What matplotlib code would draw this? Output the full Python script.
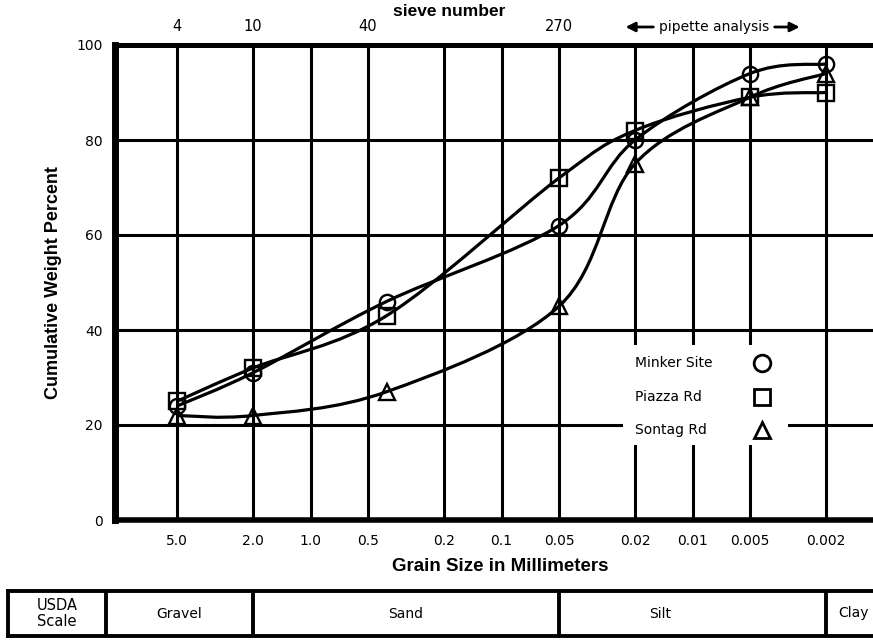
import numpy as np
import matplotlib
matplotlib.use("Agg")
import matplotlib.pyplot as plt
from matplotlib.path import Path
from matplotlib.patches import PathPatch, Rectangle
from matplotlib.text import OffsetFrom
from matplotlib.ticker import NullLocator

# grain size axis (mm) and sieve numbers on top
GRAIN_TICKS = [5.0, 2.0, 1.0, 0.5, 0.2, 0.1, 0.05, 0.02, 0.01, 0.005, 0.002]
GRAIN_LABELS = ["5.0", "2.0", "1.0", "0.5", "0.2", "0.1", "0.05", "0.02", "0.01", "0.005", "0.002"]
SIEVE_SIZES = [5.0, 2.0, 0.5, 0.05]
SIEVE_LABELS = ["4", "10", "40", "270"]
PCT_TICKS = [0, 20, 40, 60, 80, 100]

# cumulative weight percent per sample
SAMPLE_SIZES = [5.0, 2.0, 0.4, 0.05, 0.02, 0.005, 0.002]
MINKER = [24, 31, 46, 62, 80, 94, 96]
PIAZZA = [25, 32, 43, 72, 82, 89, 90]
SONTAG = [22, 22, 27, 45, 75, 89, 94]

SERIES = [
    ("Minker Site", MINKER, "o"),
    ("Piazza Rd", PIAZZA, "s"),
    ("Sontag Rd", SONTAG, "^"),
]

# USDA texture classes and their boundaries (mm)
USDA_BOUNDS = [2.0, 0.05, 0.002]
USDA_CLASSES = ["Gravel", "Sand", "Silt", "Clay"]

FIG_W, FIG_H = 873, 641
AX_L, AX_T, AX_B = 115, 45, 520  # pixel frame of the main axes
BOLD = dict(family=["Liberation Sans", "DejaVu Sans"], fontweight="bold")


def fx(px):
    return (px - AX_L) / (FIG_W - AX_L)


def fy(py):
    return (AX_B - py) / (AX_B - AX_T)


def smooth_path(xs, ys):
    # Catmull-Rom -> cubic bezier, built in log10(x) space
    pts = np.column_stack([np.log10(xs), np.asarray(ys, float)])
    ext = np.vstack([pts[0], pts, pts[-1]])
    verts = [pts[0]]
    codes = [Path.MOVETO]
    for i in range(len(pts) - 1):
        p0, p1, p2, p3 = ext[i], ext[i + 1], ext[i + 2], ext[i + 3]
        verts += [p1 + (p2 - p0) / 6.0, p2 - (p3 - p1) / 6.0, p2]
        codes += [Path.CURVE4] * 3
    verts = np.array(verts)
    verts[:, 0] = 10 ** verts[:, 0]
    return Path(verts, codes)


plt.rcParams["font.family"] = ["DejaVu Sans"]
plt.rcParams["font.size"] = 10

fig = plt.figure(figsize=(FIG_W / 100, FIG_H / 100), dpi=100)
ax = fig.add_axes([AX_L / FIG_W, 1 - AX_B / FIG_H, 1 - AX_L / FIG_W, (AX_B - AX_T) / FIG_H])

ax.set_xscale("log")
ax.set_xlim(10.56, 0.001135)
ax.set_ylim(0, 100)
ax.set_xticks(GRAIN_TICKS, GRAIN_LABELS)
ax.xaxis.set_minor_locator(NullLocator())
ax.set_yticks(PCT_TICKS)
ax.tick_params(length=0, labelsize=10)
ax.tick_params(axis="x", pad=10)
ax.tick_params(axis="y", pad=9)
ax.grid(True, color="black", linewidth=2.2)
ax.set_axisbelow(True)

ax.spines["right"].set_visible(False)
ax.spines["left"].set_linewidth(5)
ax.spines["bottom"].set_linewidth(4)
ax.spines["top"].set_linewidth(3.5)

for name, vals, marker in SERIES:
    ax.add_patch(PathPatch(smooth_path(SAMPLE_SIZES, vals), facecolor="none",
                           edgecolor="black", linewidth=2.3, zorder=3))
    ax.plot(SAMPLE_SIZES, vals, linestyle="none", marker=marker, markersize=11,
            markerfacecolor="none", markeredgecolor="black", markeredgewidth=1.7, zorder=4)

ax.set_xlabel("Grain Size in Millimeters", fontsize=13.5, labelpad=7, **BOLD)
ax.xaxis.label.set_x(fx(500))
ax.set_ylabel("Cumulative Weight Percent", fontsize=13, labelpad=10, **BOLD)

sec = ax.secondary_xaxis("top")
sec.set_xticks(SIEVE_SIZES, SIEVE_LABELS)
sec.xaxis.set_minor_locator(NullLocator())
sec.tick_params(length=0, pad=8, labelsize=10.5)
sec.spines["top"].set_linewidth(3.5)
sec.set_xlabel("sieve number", fontsize=12.5, labelpad=2, **BOLD)
sec.xaxis.label.set_x(fx(449))

# pipette analysis range marker
pip = ax.text(fx(714), fy(27), "pipette analysis", transform=ax.transAxes,
              ha="center", va="center", fontsize=10)
arrow = dict(arrowstyle="-|>,head_length=0.5,head_width=0.25", color="black", lw=2.0,
             mutation_scale=11, shrinkA=0, shrinkB=0)
ax.annotate("", xy=(-24, 0), xycoords=OffsetFrom(pip, (0, 0.5)),
            xytext=(-4, 0), textcoords=OffsetFrom(pip, (0, 0.5)), arrowprops=arrow)
ax.annotate("", xy=(22, 0), xycoords=OffsetFrom(pip, (1, 0.5)),
            xytext=(4, 0), textcoords=OffsetFrom(pip, (1, 0.5)), arrowprops=arrow)

# key, drawn on a white patch that breaks the grid
ax.add_patch(Rectangle((fx(623), fy(445)), fx(788) - fx(623), fy(345) - fy(445),
                       transform=ax.transAxes, facecolor="white", edgecolor="none", zorder=2.5))
for (name, _, marker), py in zip(SERIES, [363, 397, 430]):
    ax.text(fx(635), fy(py), name, transform=ax.transAxes, ha="left", va="center",
            fontsize=10, zorder=5)
    ax.plot([fx(762)], [fy(py)], transform=ax.transAxes, linestyle="none", marker=marker,
            markersize=12, markerfacecolor="white", markeredgecolor="black",
            markeredgewidth=2.0, zorder=5, clip_on=False)

# USDA scale strip under the chart, sharing the grain size mapping
tab_left = 8 / FIG_W
tab = fig.add_axes([tab_left, 1 - 636 / FIG_H, 1.05 - tab_left, 45 / FIG_H])
inv = ax.transData.inverted()
tab.set_xscale("log")
tab.set_xlim(inv.transform((tab.bbox.x0, 0))[0], inv.transform((tab.bbox.x1, 0))[0])
tab.set_ylim(0, 1)
tab.set_xticks([])
tab.set_yticks([])
tab.xaxis.set_minor_locator(NullLocator())
for s in tab.spines.values():
    s.set_linewidth(2.8)

usda_div = inv.transform((106, 0))[0]
edges = [usda_div] + USDA_BOUNDS
for b in edges:
    tab.axvline(b, color="black", linewidth=2.8)
usda_px = (106 - 8) / tab.bbox.width
tab.text(usda_px / 2, 0.5, "USDA\nScale", transform=tab.transAxes, ha="center",
         va="center", fontsize=10.5, linespacing=1.1)

label_frac = [0.5, 0.5, 0.38]
for i, cls in enumerate(USDA_CLASSES[:-1]):
    lo, hi = np.log10(edges[i]), np.log10(edges[i + 1])
    tab.text(10 ** (lo + (hi - lo) * label_frac[i]), 0.5, cls, ha="center", va="center",
             fontsize=10)
tab.annotate(USDA_CLASSES[-1], (USDA_BOUNDS[-1], 0.5), xytext=(9, 0),
             textcoords="offset points", ha="left", va="center", fontsize=10)

fig.savefig("out.png", dpi=100)
